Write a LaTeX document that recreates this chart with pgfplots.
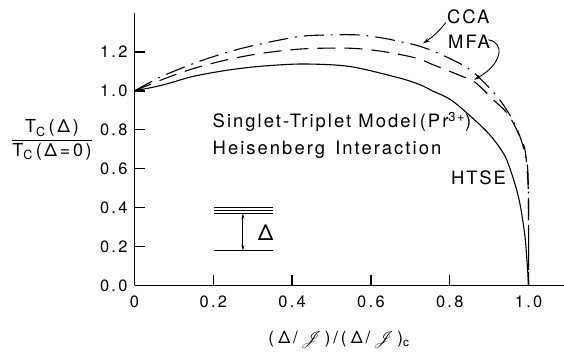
\documentclass[border=0pt]{standalone}
\usepackage{pgfplots}
\pgfplotsset{compat=1.18}
\usepackage{fontspec}
\setmainfont[LetterSpace=5]{TeX Gyre Heros}
\newfontfamily\bigf[LetterSpace=11]{TeX Gyre Heros}
\newfontfamily\tickf[LetterSpace=14]{TeX Gyre Heros}
\usepackage{mathrsfs}
\usetikzlibrary{arrows.meta}

\pgfplotstableread{
x y
0 1.0
0.073 1.031
0.15 1.075
0.242 1.108
0.33 1.128
0.43 1.138
0.547 1.125
0.674 1.065
0.725 1.031
0.758 0.998
0.809 0.945
0.894 0.791
0.936 0.680
0.953 0.600
0.970 0.490
0.980 0.40
0.991 0.251
0.997 0.10
1.0 0.0
}\htse

\pgfplotstableread{
x y
0 1.0
0.073 1.06
0.15 1.115
0.242 1.163
0.33 1.195
0.43 1.216
0.547 1.219
0.631 1.202
0.716 1.168
0.758 1.134
0.852 1.057
0.877 1.022
0.911 0.954
0.949 0.877
0.978 0.765
0.991 0.697
0.998 0.55
1.0 0.4
1.0 0.0
}\mfa

\pgfplotstableread{
x y
0 1.0
0.069 1.074
0.164 1.151
0.258 1.211
0.358 1.257
0.437 1.283
0.56 1.288
0.631 1.271
0.671 1.254
0.716 1.234
0.77 1.194
0.852 1.108
0.925 0.959
0.970 0.808
0.995 0.645
0.9995 0.508
1.0 0.3
1.0 0.0
}\cca

\begin{document}
\begin{tikzpicture}
\useasboundingbox (0,0) rectangle (564bp,354bp);
\begin{axis}[
  at={(134.5bp,68.5bp)}, anchor=south west,
  scale only axis, width=429.5bp, height=272.5bp,
  xmin=0, xmax=1.09, ymin=0, ymax=1.40,
  axis x line*=bottom, axis y line*=left,
  axis line style={line width=1.4bp},
  xtick={0,0.2,0.4,0.6,0.8,1.0},
  xticklabels={0,0.2,0.4,0.6,0.8,1.0},
  ytick={0,0.2,0.4,0.6,0.8,1.0,1.2},
  yticklabels={0.0,0.2,0.4,0.6,0.8,1.0,1.2},
  tick align=inside,
  major tick length=10.5bp,
  every tick/.style={black, line width=1.4bp},
  /pgf/number format/assume math mode=true,
  ticklabel style={font=\tickf\fontsize{16.5}{16.5}\selectfont},
  xticklabel style={yshift=-7bp},
  yticklabel style={xshift=-3.5bp},
  clip=false,
]
\addplot[line width=1.1bp, smooth, tension=0.5, {Stealth[length=8bp,width=4.5bp]}-] table[x=x,y=y] {\htse};
\addplot[line width=1.1bp, smooth, tension=0.5, dash pattern=on 18bp off 9bp] table[x=x,y=y] {\mfa};
\addplot[line width=1.1bp, smooth, tension=0.5, dash pattern=on 20bp off 7bp on 1.8bp off 7bp] table[x=x,y=y] {\cca};

% tick marks (inside)
\draw[line width=1.4bp] (axis cs:0.2,0) -- (axis cs:0.2,0.053);
\draw[line width=1.4bp] (axis cs:0.4,0) -- (axis cs:0.4,0.053);
\draw[line width=1.4bp] (axis cs:0.6,0) -- (axis cs:0.6,0.053);
\draw[line width=1.4bp] (axis cs:0.8,0) -- (axis cs:0.8,0.053);
\draw[line width=1.4bp] (axis cs:1.0,0) -- (axis cs:1.0,0.053);
\draw[line width=1.4bp] (axis cs:0,0.2) -- (axis cs:0.0267,0.2);
\draw[line width=1.4bp] (axis cs:0,0.4) -- (axis cs:0.0267,0.4);
\draw[line width=1.4bp] (axis cs:0,0.6) -- (axis cs:0.0267,0.6);
\draw[line width=1.4bp] (axis cs:0,0.8) -- (axis cs:0.0267,0.8);
\draw[line width=1.4bp] (axis cs:0,1.0) -- (axis cs:0.0267,1.0);
\draw[line width=1.4bp] (axis cs:0,1.2) -- (axis cs:0.0267,1.2);

% energy level diagram
\draw[line width=1.0bp] (axis cs:0.202,0.402) -- (axis cs:0.351,0.402);
\draw[line width=1.0bp] (axis cs:0.202,0.386) -- (axis cs:0.351,0.386);
\draw[line width=1.0bp] (axis cs:0.202,0.371) -- (axis cs:0.351,0.371);
\draw[line width=1.0bp] (axis cs:0.202,0.179) -- (axis cs:0.351,0.179);
\draw[line width=0.9bp, {Stealth[length=5bp,width=3bp]}-{Stealth[length=5bp,width=3bp]}] (axis cs:0.275,0.369) -- (axis cs:0.275,0.181);
\node[font=\fontsize{22}{22}\selectfont, inner sep=0] at (axis cs:0.333,0.272) {Δ};

% texts
\node[anchor=west, inner sep=0, font=\bigf\fontsize{18.5}{20}\selectfont] at (axis cs:0.198,0.842) {Singlet-Triplet Model\,(Pr\textsuperscript{3+})};
\node[anchor=west, inner sep=0, font=\bigf\fontsize{18.5}{20}\selectfont] at (axis cs:0.198,0.697) {Heisenberg\, Interaction};
\node[inner sep=0, font=\bigf\fontsize{18.5}{20}\selectfont] at (axis cs:0.873,0.551) {HTSE};
\node[inner sep=0, font=\bigf\fontsize{18.5}{20}\selectfont] at (axis cs:0.847,1.382) {CCA};
\node[inner sep=0, font=\bigf\fontsize{18.5}{20}\selectfont] at (axis cs:0.849,1.253) {MFA};

\draw[line width=0.9bp, -{Stealth[length=7bp,width=4bp]}] (axis cs:0.790,1.350) to[bend left=8] (axis cs:0.732,1.243);
\draw[line width=0.9bp, -{Stealth[length=7bp,width=4bp]}] (axis cs:0.898,1.262) .. controls (axis cs:0.94,1.25) and (axis cs:0.935,1.14) .. (axis cs:0.862,1.057);
\end{axis}

% axis labels
\node[font=\fontsize{18}{20}\selectfont\addfontfeatures{LetterSpace=15}] at (52bp,214bp)
  {$\displaystyle\frac{\mbox{T\textsubscript{C}\,(Δ)}}{\mbox{T\textsubscript{C}\,(Δ=0)}}$};
\node[font=\fontsize{17}{20}\selectfont\addfontfeatures{LetterSpace=25}] at (339bp,14bp)
  {(Δ\,/\,$\mathscr{J}$\,)\,/\,(Δ\,/\,$\mathscr{J}$\,)\textsubscript{c}};
\end{tikzpicture}
\end{document}
